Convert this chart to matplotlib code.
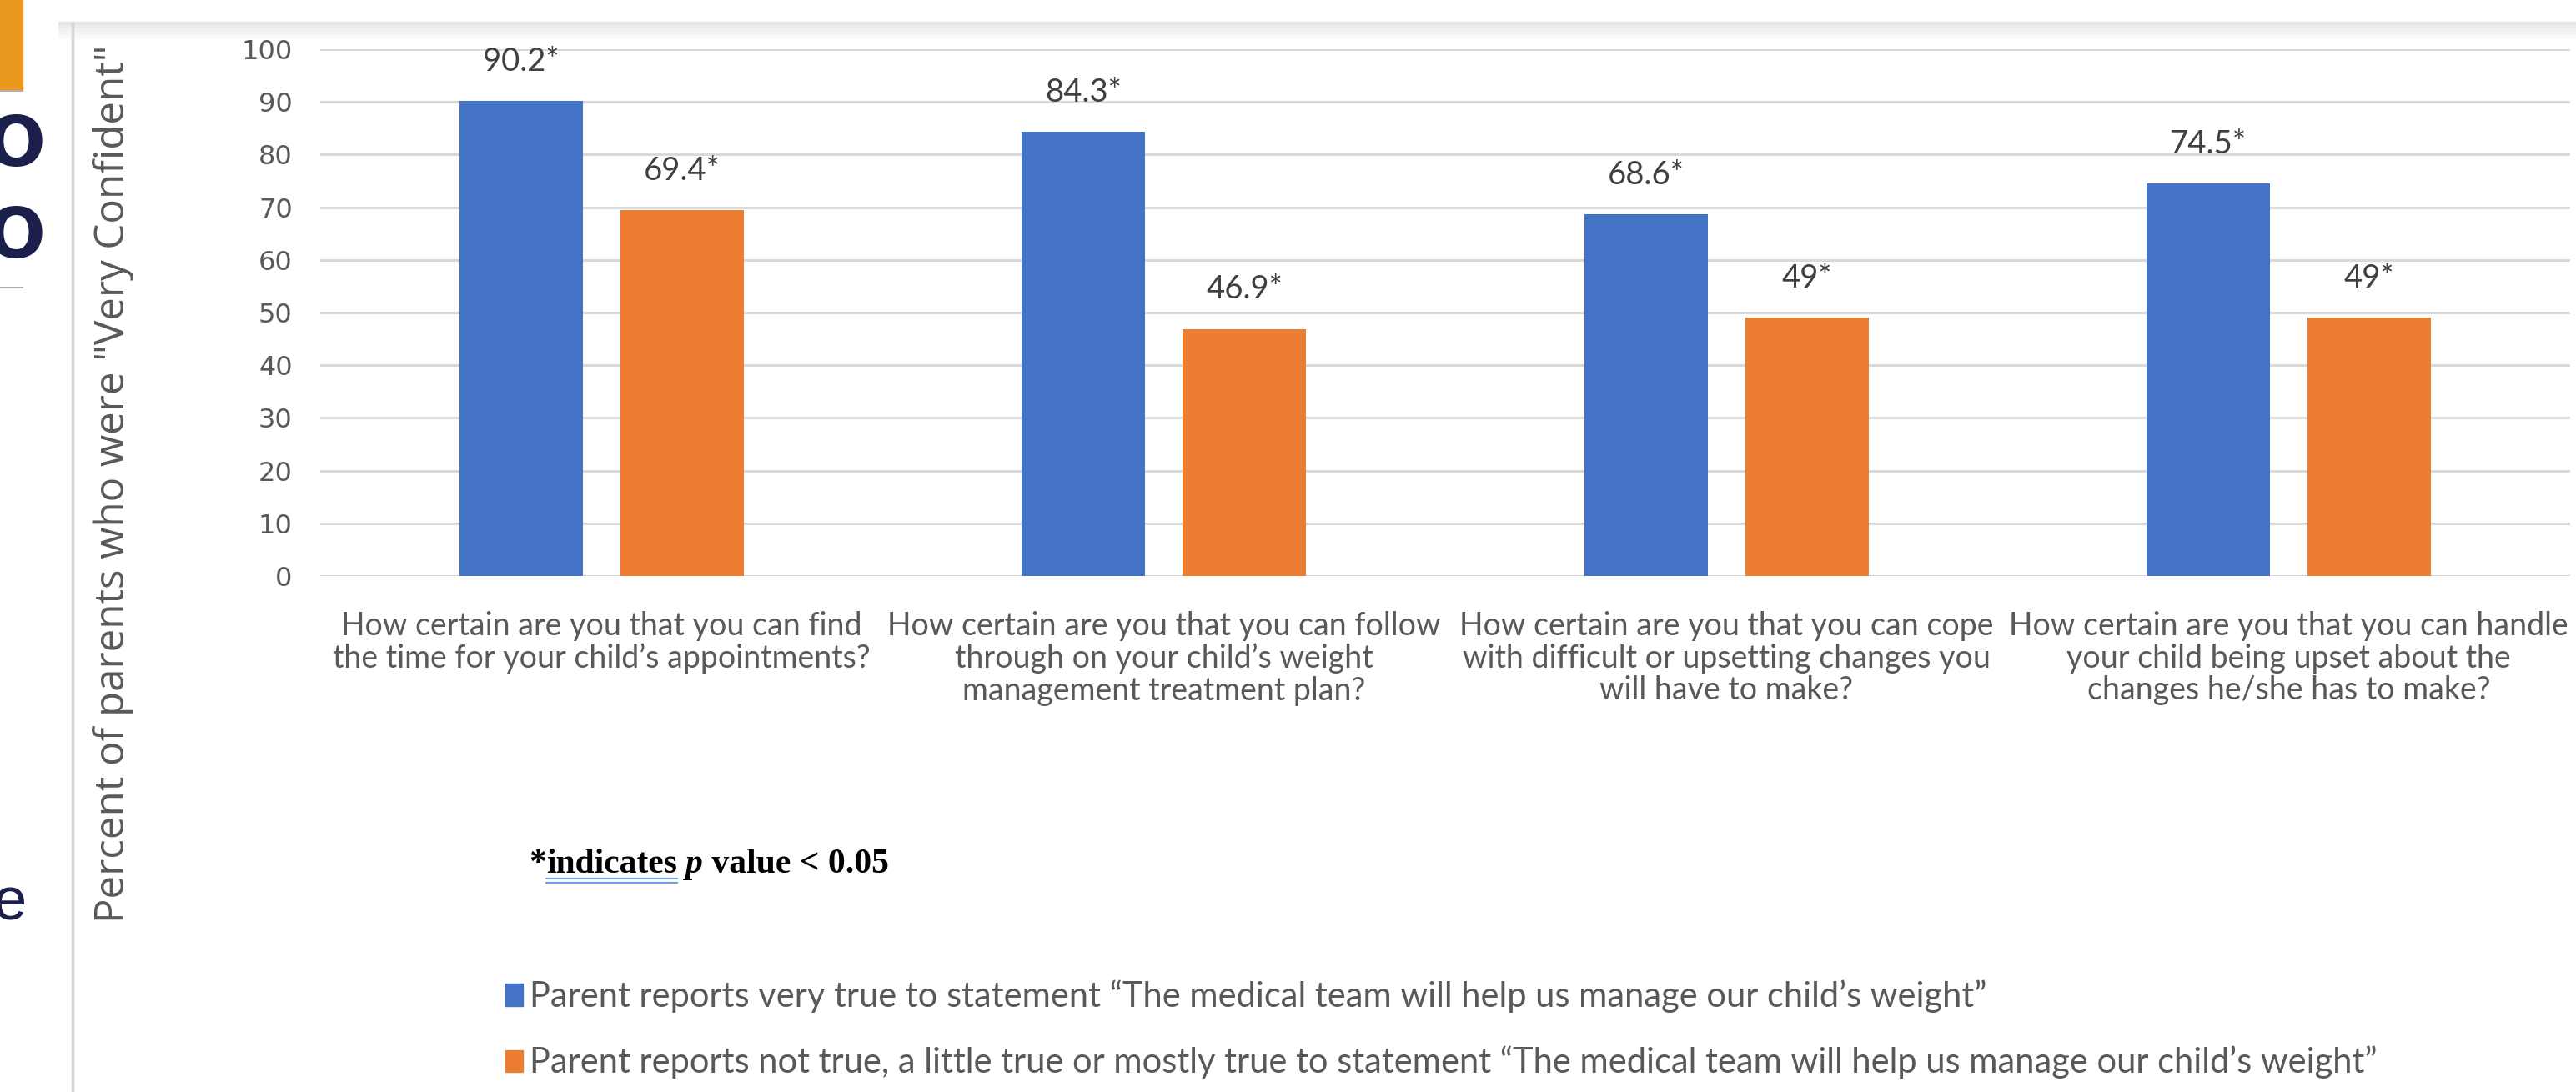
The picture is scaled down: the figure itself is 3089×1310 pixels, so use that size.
import matplotlib.pyplot as plt
from matplotlib.lines import Line2D
from matplotlib.patches import Rectangle, Patch
import numpy as np

categories = ["How certain are you that you can find\nthe time for your child\u2019s appointments?",
              "How certain are you that you can follow\nthrough on your child\u2019s weight\nmanagement treatment plan?",
              "How certain are you that you can cope\nwith difficult or upsetting changes you\nwill have to make?",
              "How certain are you that you can handle\nyour child being upset about the\nchanges he/she has to make?"]
very_true   = [90.2, 84.3, 68.6, 74.5]
not_true    = [69.4, 46.9, 49, 49]
very_labels = ["90.2*", "84.3*", "68.6*", "74.5*"]
not_labels  = ["69.4*", "46.9*", "49*", "49*"]
yticks      = [0, 10, 20, 30, 40, 50, 60, 70, 80, 90, 100]
legend_txt  = ["Parent reports very true to statement \u201cThe medical team will help us manage our child\u2019s weight\u201d",
               "Parent reports not true, a little true or mostly true to statement \u201cThe medical team will help us manage our child\u2019s weight\u201d"]

blue   = "#4472C4"
orange = "#ED7D31"
grey   = "#595959"
navy   = "#1B1F4B"
W, H = 3089, 1310

fig = plt.figure(figsize=(W/100, H/100), dpi=100)

# slide bits on the left edge
fig.add_artist(Rectangle((0, 1-108/H), 27/W, 108/H, color="#E9991F", transform=fig.transFigure))
fig.add_artist(Line2D([0, 27/W], [1-109/H, 1-109/H], color="#b0b0b0", lw=1.5))
fig.add_artist(Line2D([0, 27/W], [1-345/H, 1-345/H], color="#b0b0b0", lw=1.5))
fig.text(-16/W, 1-175/H, "O", fontsize=60, fontweight="bold", color=navy, va="center", ha="left")
fig.text(-16/W, 1-285/H, "O", fontsize=60, fontweight="bold", color=navy, va="center", ha="left")
fig.text(-8/W, 1-1085/H, "e", fontsize=52, color=navy, va="center", ha="left", family="Liberation Sans")
# window edge / shadow
for i, c in enumerate(["#e4e4e4", "#ececec", "#f2f2f2", "#f6f6f6", "#f9f9f9"]):
    fig.add_artist(Line2D([72/W, 1], [1-(28+i*4)/H]*2, color=c, lw=3))
fig.add_artist(Line2D([87/W, 87/W], [0, 1-28/H], color="#d4d4d4", lw=2.5))

ax = fig.add_axes([384/W, 1-691/H, (3082-384)/W, (691-59)/H])
x = np.arange(len(categories))
bw = 0.22
b1 = ax.bar(x - 0.143, very_true, bw, color=blue, zorder=3)
b2 = ax.bar(x + 0.143, not_true, bw, color=orange, zorder=3)

for bars, labs in [(b1, very_labels), (b2, not_labels)]:
    for r, lab in zip(bars, labs):
        ax.annotate(lab, (r.get_x() + r.get_width()/2, r.get_height()), xytext=(0, 34),
                    textcoords="offset points", ha="center", va="center",
                    fontsize=27.5, family="Lato", color="#404040")

ax.set_xlim(-0.5, 3.5)
ax.set_ylim(0, 100)
ax.set_yticks(yticks)
ax.set_yticklabels([str(t) for t in yticks], fontsize=23, color=grey, family="DejaVu Sans")
ax.set_xticks(x)
ax.set_xticklabels(categories, fontsize=27, family="Lato", color=grey, linespacing=1.1, va="top")
ax.tick_params(axis="y", length=0, pad=24)
ax.tick_params(axis="x", length=0, pad=30)
ax.grid(axis="y", color="#d9d9d9", lw=2.2, zorder=0)
for s in ax.spines.values():
    s.set_visible(False)

fig.text(136/W, 1-580/H, "Percent of parents who were \"Very Confident\"", rotation=90,
         fontsize=35.5, family="Open Sans", color=grey, ha="center", va="center")

# footnote, built piece by piece
fig.canvas.draw()
rend = fig.canvas.get_renderer()
fx, fy = 634/W, 1-1047/H
pieces = [("*", "normal"), ("indicates", "normal"), (" ", "normal"), ("p", "italic"), (" value < 0.05", "normal")]
for txt, sty in pieces:
    t = fig.text(fx, fy, txt, fontsize=30, family="Liberation Serif", fontweight="bold",
                 style=sty, color="black", va="baseline", ha="left")
    bb = t.get_window_extent(rend)
    if txt == "indicates":
        for dy in (6, 11):
            fig.add_artist(Line2D([bb.x0/W, bb.x1/W], [(bb.y0 + 8 - dy)/H]*2, color="#6d9eeb", lw=1.5))
    fx = bb.x1/W

handles = [Patch(color=blue), Patch(color=orange)]
fig.legend(handles, legend_txt, loc="center left", bbox_to_anchor=(606/W, 1-1235/H),
           frameon=False, handlelength=0.5, handleheight=0.6, handletextpad=0.2,
           borderpad=0, borderaxespad=0, labelspacing=0.95,
           prop={"family": "Lato", "size": 30}, labelcolor=grey)

fig.savefig("out.png", dpi=100)
